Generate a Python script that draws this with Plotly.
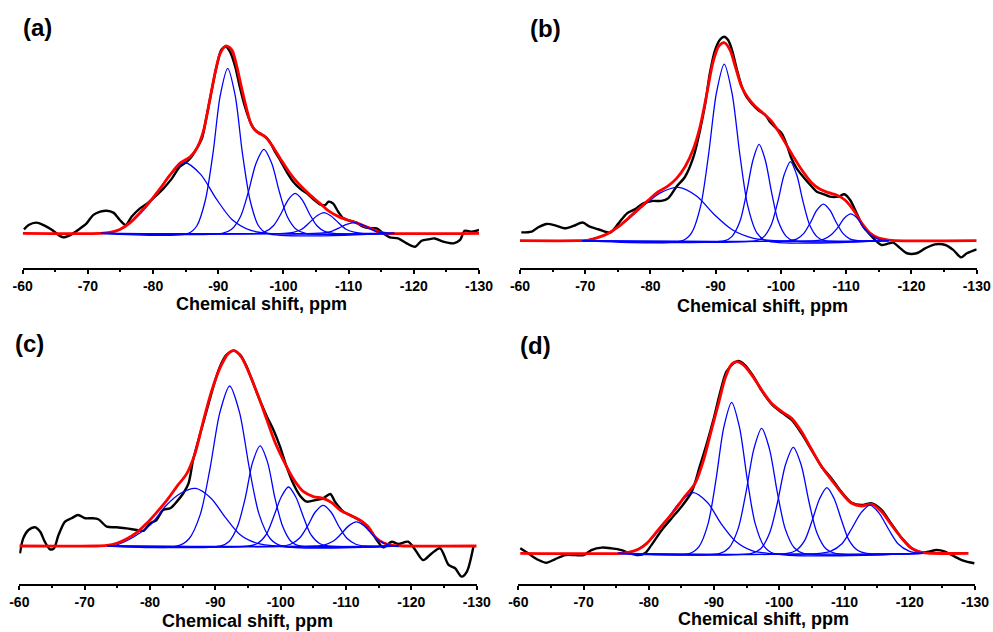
import plotly.graph_objects as go

# ---------------- data (ppm, intensity in arbitrary units) ----------------
tick_vals = [-60, -70, -80, -90, -100, -110, -120, -130]
tick_text = ["-60", "-70", "-80", "-90", "-100", "-110", "-120", "-130"]
minor_vals = [-65, -75, -85, -95, -105, -115, -125]
x_title = "Chemical shift, ppm"
panel_labels = ["(a)", "(b)", "(c)", "(d)"]

# ---- panel (a)
a_exp_ppm = [-60.2, -60.9, -62.1, -63.2, -64.4, -65.5, -66.2, -67.3, -68.5, -69.8, -70.8, -71.9, -72.9, -73.9,
             -74.9, -75.8, -76.7, -78.0, -79.0, -80.3, -81.6, -82.9, -84.1, -85.2, -85.9, -86.7, -87.5, -88.2,
             -89.0, -89.8, -90.5, -91.2, -91.8, -92.6, -93.3, -94.1, -94.9, -95.6, -96.4, -97.2, -97.9, -98.7,
             -99.5, -100.5, -101.5, -102.5, -103.6, -104.6, -105.6, -106.4, -106.9, -107.6, -108.4, -109.2,
             -110.2, -111.2, -112.2, -113.3, -114.3, -115.3, -116.3, -117.6, -118.9, -120.2, -121.2, -122.2,
             -123.2, -124.5, -126.1, -127.1, -127.8, -128.9, -130.0]
a_exp_int = [2.1, 4.4, 5.7, 4.4, 2.1, -0.9, -2.1, -0.9, 1.8, 5.3, 9.7, 11.5, 12.0, 11.0, 7.1, 4.4, 8.8, 13.3,
             15.6, 19.5, 23.9, 29.2, 35.4, 38.1, 40.7, 45.1, 50.4, 61.9, 76.1, 89.4, 97.7, 99.1, 96.5, 88.5, 77.9,
             67.3, 59.3, 54.9, 53.1, 51.3, 48.7, 43.4, 38.9, 32.7, 27.4, 23.9, 21.2, 18.1, 15.4, 15.0, 16.8, 15.9,
             11.5, 8.0, 6.7, 5.7, 3.5, 2.7, 2.7, 0.0, -2.1, -2.7, -5.3, -7.1, -3.9, -3.2, -2.7, -4.4, -5.3, -3.5,
             1.4, 0.9, 1.8]
a_fit_ppm = [-60.0, -71.9, -73.4, -74.9, -76.5, -78.0, -79.5, -81.1, -82.6, -84.1, -85.7, -86.7, -87.7, -88.7,
             -89.5, -90.3, -91.2, -92.1, -92.8, -93.6, -94.4, -95.1, -96.1, -97.2, -98.2, -99.5, -101.0, -102.5,
             -104.1, -105.6, -107.1, -108.7, -110.2, -111.7, -113.3, -114.8, -115.8, -130.0]
a_fit_int = [0, 0, 0.5, 2.1, 5.7, 11.0, 16.8, 23.9, 31.0, 37.2, 40.7, 45.1, 54.0, 70.8, 85.0, 95.6, 99.6, 97.3,
             89.4, 77.0, 65.5, 57.5, 53.5, 51.3, 46.9, 39.8, 31.9, 25.7, 20.4, 15.9, 11.5, 8.5, 6.7, 5.0, 2.7, 0.5,
             0, 0]
a_peak_ppm = [
    [-72.1, -74.9, -77.7, -80.1, -82.5, -84.9, -87.3, -89.7, -92.1, -94.9, -97.7],
    [-85.4, -86.7, -88.0, -89.2, -90.3, -91.45, -92.6, -93.7, -94.9, -96.2, -97.5],
    [-90.6, -92.0, -93.4, -94.6, -95.8, -97.0, -98.2, -99.4, -100.6, -102.0, -103.4],
    [-95.9, -97.2, -98.5, -99.6, -100.7, -101.8, -102.9, -104.0, -105.1, -106.4, -107.7],
    [-100.1, -101.5, -102.8, -103.9, -105.1, -106.2, -107.3, -108.5, -109.6, -111.0, -112.3],
    [-104.7, -106.1, -107.4, -108.5, -109.7, -110.8, -111.9, -113.1, -114.2, -115.6, -116.9]]
a_peak_int = [
    [0, 1.9, 9.3, 18.9, 30.6, 37.5, 31.3, 18.3, 7.4, 1.7, 0],
    [0, 3.9, 17.3, 42.7, 73.1, 87.6, 73.1, 42.7, 17.3, 3.9, 0],
    [0, 2.0, 8.8, 21.7, 37.2, 44.6, 37.2, 21.7, 8.8, 2.0, 0],
    [0, 0.9, 4.2, 10.3, 17.7, 21.2, 17.7, 10.3, 4.2, 0.9, 0],
    [0, 0.5, 2.2, 5.4, 9.2, 11.0, 9.2, 5.4, 2.2, 0.5, 0],
    [0, 0.3, 1.1, 2.8, 4.8, 5.7, 4.8, 2.8, 1.1, 0.3, 0]]
a_base = [-72.0, -117.0]

# ---- panel (b)
b_exp_ppm = [-60.2, -61.8, -62.8, -64.1, -65.4, -66.9, -68.2, -69.6, -70.7, -72.0, -73.8, -75.1, -76.4, -77.6,
             -78.9, -80.2, -81.7, -82.7, -84.0, -85.3, -86.6, -87.6, -88.4, -89.1, -89.9, -90.7, -91.3, -91.9,
             -92.5, -93.2, -94.0, -94.7, -95.5, -96.5, -97.6, -98.3, -99.3, -100.1, -100.9, -101.6, -102.4,
             -103.4, -104.5, -105.5, -106.5, -107.5, -108.8, -109.7, -110.6, -111.6, -112.6, -113.7, -114.7,
             -115.4, -116.5, -117.2, -118.3, -119.3, -120.8, -122.1, -123.6, -125.2, -126.4, -127.6, -128.5,
             -130.0]
b_exp_int = [4.2, 4.6, 6.8, 8.5, 7.8, 6.3, 7.5, 9.2, 7.1, 5.8, 4.1, 8.8, 13.9, 15.9, 19.0, 20.2, 20.2, 21.5,
             27.5, 32.5, 42.7, 56.3, 69.8, 85.1, 96.9, 102.4, 103.7, 102.0, 96.9, 87.6, 78.3, 73.2, 69.8, 66.4,
             63.9, 60.5, 57.1, 54.6, 48.6, 41.9, 36.8, 32.5, 28.3, 24.9, 23.7, 22.4, 22.4, 23.6, 20.7, 13.9, 7.1,
             2.9, -0.5, -2.2, -1.4, -1.0, -3.9, -6.4, -6.4, -3.9, -1.9, -2.2, -4.7, -8.5, -6.4, -4.4]
b_fit_ppm = [-60.0, -68.9, -70.5, -72.0, -73.5, -75.1, -76.6, -78.1, -79.7, -81.2, -82.7, -84.0, -85.3, -86.6,
             -87.6, -88.6, -89.6, -90.5, -91.3, -92.2, -93.0, -94.0, -95.0, -96.0, -97.0, -98.6, -100.1, -101.6,
             -103.2, -104.7, -106.0, -107.3, -108.5, -109.8, -111.1, -112.4, -113.7, -114.9, -116.5, -117.5,
             -130.0]
b_fit_int = [0, 0, 0.3, 1.7, 3.7, 7.1, 11.4, 15.9, 20.7, 24.9, 27.8, 31.7, 37.6, 46.9, 58.0, 74.1, 91.0, 99.0,
             100.7, 96.9, 88.5, 78.0, 72.4, 68.5, 65.6, 60.5, 52.9, 44.4, 35.9, 29.5, 26.1, 24.4, 23.2, 20.7,
             15.6, 8.8, 3.7, 1.4, 0.3, 0, 0]
b_peak_ppm = [
    [-69.6, -72.8, -76.0, -78.8, -81.5, -84.3, -87.1, -89.8, -92.6, -95.8, -99.0],
    [-84.9, -86.3, -87.7, -88.9, -90.1, -91.3, -92.5, -93.7, -94.9, -96.3, -97.7],
    [-91.4, -92.5, -93.7, -94.7, -95.7, -96.65, -97.6, -98.6, -99.6, -100.8, -101.9],
    [-96.2, -97.3, -98.5, -99.5, -100.5, -101.45, -102.4, -103.4, -104.4, -105.6, -106.7],
    [-101.2, -102.4, -103.5, -104.5, -105.5, -106.5, -107.5, -108.5, -109.5, -110.6, -111.8],
    [-105.3, -106.5, -107.6, -108.7, -109.7, -110.7, -111.7, -112.7, -113.8, -115.0, -116.1]]
b_peak_int = [
    [0, 2.5, 9.2, 17.4, 24.3, 27.1, 22.6, 13.2, 5.4, 1.2, 0],
    [0, 4.0, 17.8, 43.7, 75.0, 89.8, 75.0, 43.7, 17.8, 4.0, 0],
    [0, 2.2, 9.7, 23.9, 40.9, 49.0, 40.9, 23.9, 9.7, 2.2, 0],
    [0, 1.8, 8.0, 19.6, 33.6, 40.2, 33.6, 19.6, 8.0, 1.8, 0],
    [0, 0.8, 3.7, 9.1, 15.5, 18.6, 15.5, 9.1, 3.7, 0.8, 0],
    [0, 0.6, 2.7, 6.6, 11.4, 13.6, 11.4, 6.6, 2.7, 0.6, 0]]
b_base = [-69.5, -116.5]

# ---- panel (c)
c_exp_ppm = [-60.1, -60.6, -61.4, -62.4, -63.2, -63.9, -64.7, -65.3, -66.0, -67.0, -68.0, -69.0, -70.1, -71.1,
             -72.1, -73.4, -74.9, -76.4, -78.0, -79.0, -80.0, -81.0, -82.0, -83.1, -84.1, -85.1, -85.9, -86.6,
             -87.7, -88.7, -89.7, -90.7, -91.7, -92.8, -93.8, -94.8, -95.8, -96.8, -97.9, -98.9, -99.9, -100.9,
             -101.9, -103.0, -104.0, -105.3, -106.5, -107.6, -108.3, -109.6, -111.1, -112.4, -113.7, -114.7,
             -115.7, -117.0, -118.0, -119.5, -120.6, -121.8, -123.1, -124.4, -125.7, -126.7, -127.7, -128.5,
             -129.5]
c_exp_int = [-3.8, 3.9, 8.2, 9.6, 7.3, 2.2, -1.7, -1.2, 5.6, 12.5, 14.2, 15.9, 14.2, 14.2, 13.7, 9.9, 9.6, 9.0,
             8.2, 7.8, 11.6, 13.3, 18.4, 19.3, 22.7, 27.0, 32.1, 44.0, 57.7, 69.6, 81.6, 91.8, 97.8, 100.0, 97.8,
             91.8, 83.3, 74.7, 66.2, 59.4, 50.9, 40.6, 32.1, 25.6, 22.7, 23.5, 24.4, 26.6, 22.7, 17.6, 15.0, 12.5,
             8.2, 3.1, -0.7, 2.2, 1.0, 2.2, -2.0, -7.2, -3.8, -1.2, -9.7, -11.4, -15.7, -13.1, -0.3]
c_fit_ppm = [-60.0, -71.8, -73.4, -74.9, -76.4, -78.0, -79.5, -81.0, -82.6, -84.1, -85.6, -86.9, -88.2, -89.4,
             -90.7, -92.0, -92.9, -94.0, -95.3, -96.6, -97.9, -99.1, -100.4, -101.9, -103.5, -105.0, -106.5,
             -107.8, -109.1, -110.6, -112.1, -113.4, -114.4, -115.7, -117.2, -118.8, -130.0]
c_fit_int = [0, 0, 0.3, 1.4, 3.6, 7.0, 11.6, 17.1, 23.5, 30.4, 36.9, 47.4, 64.5, 79.0, 91.0, 98.6, 100.0, 96.6,
             87.5, 76.5, 64.5, 53.4, 44.0, 34.6, 27.8, 25.3, 24.4, 22.2, 18.4, 15.9, 13.3, 9.9, 4.8, 1.7, 0.3, 0, 0]
c_peak_ppm = [
    [-74.8, -77.5, -80.2, -82.4, -84.7, -87.0, -89.3, -91.6, -93.8, -96.5, -99.2],
    [-84.2, -85.95, -87.7, -89.2, -90.7, -92.2, -93.7, -95.2, -96.7, -98.45, -100.2],
    [-90.8, -92.1, -93.4, -94.6, -95.7, -96.85, -98.0, -99.1, -100.3, -101.6, -102.9],
    [-95.1, -96.45, -97.8, -98.9, -100.1, -101.2, -102.3, -103.5, -104.6, -105.95, -107.3],
    [-100.1, -101.5, -102.9, -104.1, -105.3, -106.5, -107.7, -108.9, -110.1, -111.5, -112.9],
    [-105.2, -106.6, -108.0, -109.2, -110.4, -111.6, -112.8, -114.0, -115.2, -116.6, -118.0]]
c_peak_int = [
    [0.5, 4.6, 11.3, 20.5, 27.0, 29.5, 24.6, 14.4, 5.8, 1.3, 0],
    [0, 3.6, 16.2, 39.9, 68.4, 81.9, 68.4, 39.9, 16.2, 3.6, 0],
    [0, 2.3, 10.1, 24.9, 42.8, 51.2, 42.8, 24.9, 10.1, 2.3, 0],
    [0, 1.3, 6.0, 14.7, 25.2, 30.2, 25.2, 14.7, 6.0, 1.3, 0],
    [0, 0.9, 4.1, 10.1, 17.4, 20.8, 17.4, 10.1, 4.1, 0.9, 0],
    [0, 0.5, 2.4, 6.0, 10.3, 12.3, 10.3, 6.0, 2.4, 0.5, 0]]
c_base = [-73.5, -118.0]

# ---- panel (d)
d_exp_ppm = [-60.3, -61.5, -63.1, -64.3, -65.6, -67.2, -68.7, -70.0, -71.2, -72.8, -74.3, -75.8, -77.1, -78.4,
             -79.4, -80.4, -82.0, -83.5, -85.0, -86.6, -87.8, -88.9, -89.9, -90.9, -91.9, -93.0, -93.7, -94.7,
             -96.0, -97.3, -98.8, -100.4, -101.9, -103.4, -105.0, -106.5, -108.0, -109.6, -111.1, -112.6, -114.2,
             -115.7, -117.2, -118.8, -120.3, -121.8, -122.9, -124.1, -125.4, -126.9, -128.2, -129.9]
d_exp_int = [2.6, 0.0, -3.5, -4.9, -3.1, -0.9, -0.9, -0.9, 1.7, 3.0, 2.6, 1.7, 0.0, -0.9, 0.0, 4.3, 12.2, 18.3,
             24.3, 32.2, 45.2, 57.4, 69.6, 83.5, 94.8, 99.1, 100.3, 98.3, 92.5, 84.9, 78.0, 73.4, 69.6, 62.6, 53.6,
             45.2, 39.1, 31.7, 26.4, 25.2, 26.1, 22.6, 15.3, 7.8, 2.6, 0.5, 0.9, 1.7, 0.9, -1.7, -3.8, -5.2]
d_fit_ppm = [-60.3, -75.8, -76.9, -78.4, -79.7, -81.0, -82.5, -84.0, -85.5, -87.1, -88.4, -89.6, -90.7, -91.7,
             -92.7, -93.5, -94.5, -95.8, -97.3, -98.8, -100.4, -101.9, -103.4, -105.0, -106.5, -108.0, -109.6,
             -111.1, -112.6, -114.2, -115.7, -117.2, -118.8, -120.3, -121.8, -123.4, -129.0]
d_fit_int = [0, 0, 0.5, 2.1, 5.2, 10.4, 16.5, 22.6, 29.6, 36.5, 48.7, 64.3, 78.3, 91.3, 98.6, 100.0, 98.3, 93.0,
             85.2, 78.3, 73.9, 70.4, 63.5, 53.9, 45.2, 38.3, 31.3, 26.1, 24.7, 25.6, 21.7, 14.8, 7.8, 2.6, 0.5, 0, 0]
d_peak_ppm = [
    [-75.3, -77.8, -80.3, -82.5, -84.6, -86.8, -89.0, -91.1, -93.3, -95.8, -98.3],
    [-86.3, -87.7, -89.1, -90.3, -91.5, -92.7, -93.9, -95.1, -96.3, -97.7, -99.1],
    [-90.9, -92.3, -93.7, -94.9, -96.1, -97.3, -98.5, -99.7, -100.9, -102.3, -103.7],
    [-95.75, -97.15, -98.55, -99.75, -100.95, -102.15, -103.35, -104.55, -105.75, -107.15, -108.55],
    [-101.2, -102.55, -103.9, -105.0, -106.2, -107.3, -108.4, -109.6, -110.7, -112.05, -113.4],
    [-106.2, -107.9, -109.6, -111.0, -112.5, -113.9, -115.3, -116.8, -118.2, -119.9, -121.6]]
d_peak_int = [
    [0, 1.4, 7.2, 16.2, 26.0, 31.7, 26.5, 15.4, 6.3, 1.4, 0],
    [0, 3.5, 15.6, 38.4, 65.8, 78.8, 65.8, 38.4, 15.6, 3.5, 0],
    [0, 2.9, 12.9, 31.8, 54.4, 65.2, 54.4, 31.8, 12.9, 2.9, 0],
    [0, 2.4, 10.9, 26.9, 46.2, 55.3, 46.2, 26.9, 10.9, 2.4, 0],
    [0, 1.5, 6.8, 16.7, 28.6, 34.3, 28.6, 16.7, 6.8, 1.5, 0],
    [0, 1.1, 5.0, 12.3, 21.0, 25.2, 21.0, 12.3, 5.0, 1.1, 0]]
d_base = [-75.3, -122.0]

# ---------------- layout geometry (pixels of the 993 x 632 page) ----------------
W, H = 993, 632
FONT = "Arial, 'Liberation Sans', sans-serif"


def px(x):
    return x / W


def py(y):
    return 1 - y / H


panels = [
    dict(exp=(a_exp_ppm, a_exp_int), fit=(a_fit_ppm, a_fit_int), peaks=(a_peak_ppm, a_peak_int), base=a_base,
         xpx=(22.7, 479.0), ypx=(268, 20), yr=(-18.4, 113.3), lab=(21, 27), tit=(261, 304)),
    dict(exp=(b_exp_ppm, b_exp_int), fit=(b_fit_ppm, b_fit_int), peaks=(b_peak_ppm, b_peak_int), base=b_base,
         xpx=(520.0, 976.7), ypx=(268, 20), yr=(-13.9, 112.2), lab=(528, 28), tit=(762, 306)),
    dict(exp=(c_exp_ppm, c_exp_int), fit=(c_fit_ppm, c_fit_int), peaks=(c_peak_ppm, c_peak_int), base=c_base,
         xpx=(19.3, 476.7), ypx=(584, 335), yr=(-19.45, 108.0), lab=(13, 343), tit=(247, 621)),
    dict(exp=(d_exp_ppm, d_exp_int), fit=(d_fit_ppm, d_fit_int), peaks=(d_peak_ppm, d_peak_int), base=d_base,
         xpx=(518.3, 975.0), ypx=(584, 335), yr=(-16.0, 113.9), lab=(518, 345), tit=(763, 619)),
]

fig = go.Figure()
annotations = []
layout_axes = {}

for i, p in enumerate(panels):
    n = "" if i == 0 else str(i + 1)
    xa, ya = "x" + n, "y" + n

    def add_line(x, y, color, width):
        fig.add_trace(go.Scatter(x=x, y=y, mode="lines", xaxis=xa, yaxis=ya, showlegend=False,
                                 hoverinfo="skip", line=dict(color=color, width=width, shape="spline",
                                                             smoothing=0.8)))

    def add_peak(k):
        xs = [p["base"][0]] + p["peaks"][0][k] + [p["base"][1]]
        ys = [0] + p["peaks"][1][k] + [0]
        add_line(xs, ys, "#0000ff", 1.3)

    add_line(p["exp"][0], p["exp"][1], "#000000", 2.4)
    add_peak(0)
    add_line(p["fit"][0], p["fit"][1], "#ff0000", 2.8)
    for k in range(1, len(p["peaks"][0])):
        add_peak(k)

    layout_axes["xaxis" + n] = dict(
        domain=[px(p["xpx"][0]), px(p["xpx"][1])], range=[-60, -130], anchor=ya,
        tickmode="array", tickvals=tick_vals, ticktext=tick_text, automargin=False,
        showline=True, linecolor="black", linewidth=2, mirror=False,
        ticks="outside", ticklen=4, tickwidth=2, tickcolor="black",
        minor=dict(tickmode="array", tickvals=minor_vals, ticks="outside", ticklen=2, tickwidth=2,
                   tickcolor="black"),
        showgrid=False, zeroline=False, fixedrange=True,
        tickfont=dict(family=FONT, size=14, color="black", weight="bold"),
    )
    layout_axes["yaxis" + n] = dict(
        domain=[py(p["ypx"][0]), py(p["ypx"][1])], range=list(p["yr"]), anchor=xa, automargin=False,
        visible=False, showgrid=False, zeroline=False, fixedrange=True,
    )
    annotations.append(dict(text=panel_labels[i], x=px(p["lab"][0]), y=py(p["lab"][1]), xref="paper",
                            yref="paper", xanchor="left", yanchor="middle", showarrow=False,
                            font=dict(family=FONT, size=24, color="black", weight="bold")))
    annotations.append(dict(text=x_title, x=px(p["tit"][0]), y=py(p["tit"][1]), xref="paper",
                            yref="paper", xanchor="center", yanchor="middle", showarrow=False,
                            font=dict(family=FONT, size=18, color="black", weight="bold")))

fig.update_layout(
    template="none",
    width=W, height=H, autosize=False,
    margin=dict(l=0, r=0, t=0, b=0, pad=0, autoexpand=False),
    paper_bgcolor="white", plot_bgcolor="white",
    showlegend=False, annotations=annotations,
    **layout_axes,
)

fig.write_html("out.html", config={"displayModeBar": False},
               post_script="document.body.style.margin='0';document.body.style.overflow='hidden';")
